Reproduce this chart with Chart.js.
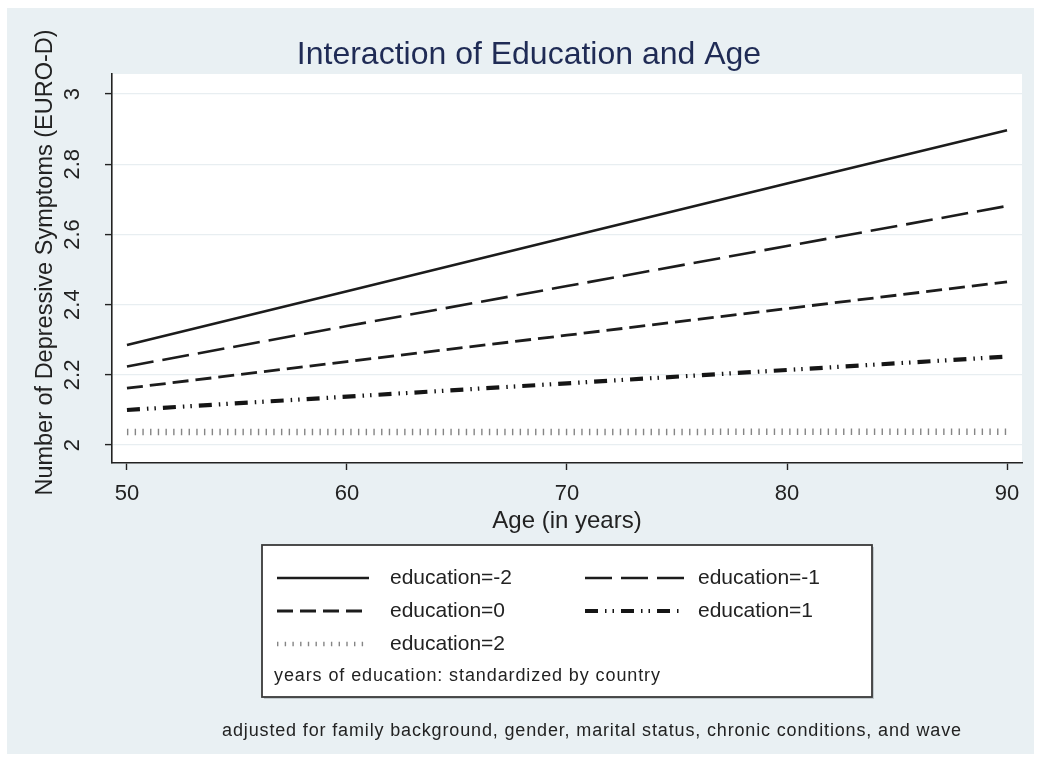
<!DOCTYPE html>
<html>
<head>
<meta charset="utf-8">
<script src="https://cdn.jsdelivr.net/npm/chart.js@4.4.1/dist/chart.umd.min.js"></script>
<style>
  html, body { margin: 0; padding: 0; background: #ffffff; }
  #wrap { width: 1040px; height: 762px; position: relative; }
</style>
</head>
<body>
<div id="wrap"><canvas id="c" width="1040" height="762"></canvas></div>
<script>
// Predicted EURO-D scores by age, one series per standardized education level
const ages = [50, 60, 70, 80, 90];
const eduMinus2 = [2.285, 2.438, 2.592, 2.745, 2.897];
const eduMinus1 = [2.224, 2.339, 2.453, 2.567, 2.681];
const eduZero   = [2.162, 2.238, 2.313, 2.389, 2.465];
const eduPlus1  = [2.100, 2.138, 2.176, 2.214, 2.252];
const eduPlus2  = [2.037, 2.037, 2.037, 2.038, 2.038];
const seriesLabels = ['education=-2', 'education=-1', 'education=0', 'education=1', 'education=2'];

// Axis ticks and text
const xTicks = [50, 60, 70, 80, 90];
const yTicks = [2, 2.2, 2.4, 2.6, 2.8, 3];
const yTickLabels = ['2', '2.2', '2.4', '2.6', '2.8', '3'];
const titleText = 'Interaction of Education and Age';
const xTitle = 'Age (in years)';
const yTitle = 'Number of Depressive Symptoms (EURO-D)';
const legendNote = 'years of education: standardized by country';
const footNote = 'adjusted for family background, gender, marital status, chronic conditions, and wave';

const FONT = '"Liberation Sans", Arial, Helvetica, sans-serif';
const INK = '#222222';

function pts(vals) { return ages.map((a, i) => ({ x: a, y: vals[i] })); }

const styles = [
  { borderColor: '#1c1c1c', borderWidth: 2.6, borderDash: [] },
  { borderColor: '#1c1c1c', borderWidth: 2.6, borderDash: [27, 9] },
  { borderColor: '#1c1c1c', borderWidth: 2.8, borderDash: [16, 7] },
  { borderColor: '#151515', borderWidth: 4.2, borderDash: [13, 7, 1.5, 6, 1.5, 7] },
  { borderColor: '#858585', borderWidth: 6.5, borderDash: [1.4, 6.3] }
];
const seriesValues = [eduMinus2, eduMinus1, eduZero, eduPlus1, eduPlus2];

const datasets = seriesValues.map((vals, i) => Object.assign({
  label: seriesLabels[i],
  data: pts(vals),
  pointRadius: 0,
  pointHoverRadius: 0,
  tension: 0,
  borderCapStyle: 'butt',
  fill: false
}, styles[i]));

const stataFrame = {
  id: 'stataFrame',
  beforeDraw(chart) {
    const ctx = chart.ctx;
    const a = chart.chartArea;
    ctx.save();
    ctx.fillStyle = '#ffffff';
    ctx.fillRect(0, 0, chart.width, chart.height);
    ctx.fillStyle = '#e9f0f3';
    ctx.fillRect(7, 8, 1027, 746);
    ctx.fillStyle = '#ffffff';
    ctx.fillRect(a.left, a.top, a.right - a.left, a.bottom - a.top);
    ctx.restore();
  },
  afterDraw(chart) {
    const ctx = chart.ctx;
    const a = chart.chartArea;
    const ys = chart.scales.y;
    ctx.save();

    // Title
    ctx.fillStyle = '#1f2b55';
    ctx.font = '32px ' + FONT;
    ctx.textAlign = 'center';
    ctx.textBaseline = 'middle';
    ctx.fillText(titleText, 529, 55);

    // Y tick labels, rotated
    ctx.fillStyle = INK;
    ctx.font = '22px ' + FONT;
    yTicks.forEach((v, i) => {
      const y = ys.getPixelForValue(v);
      ctx.save();
      ctx.translate(73, y);
      ctx.rotate(-Math.PI / 2);
      ctx.textAlign = 'center';
      ctx.textBaseline = 'middle';
      ctx.fillText(yTickLabels[i], 0, 0);
      ctx.restore();
    });

    // Y title
    ctx.save();
    ctx.translate(46, (a.top + a.bottom) / 2 - 6);
    ctx.rotate(-Math.PI / 2);
    ctx.textAlign = 'center';
    ctx.textBaseline = 'middle';
    ctx.font = '23.5px ' + FONT;
    ctx.fillText(yTitle, 0, 0);
    ctx.restore();

    // X title
    ctx.textAlign = 'center';
    ctx.textBaseline = 'middle';
    ctx.font = '24px ' + FONT;
    ctx.fillText(xTitle, (a.left + a.right) / 2, 521);

    // Legend box
    const bx = 262, by = 545, bw = 610, bh = 152;
    ctx.fillStyle = 'rgba(120,130,135,0.35)';
    ctx.fillRect(bx + 2, by + 2, bw, bh);
    ctx.fillStyle = '#ffffff';
    ctx.fillRect(bx, by, bw, bh);
    ctx.strokeStyle = '#3a3a3a';
    ctx.lineWidth = 1.8;
    ctx.strokeRect(bx, by, bw, bh);

    const cols = [{ s0: 277, s1: 369, t: 390 }, { s0: 585, s1: 684, t: 698 }];
    const rows = [578, 611, 644];
    chart.data.datasets.forEach((ds, i) => {
      const c = cols[i % 2];
      const y = rows[Math.floor(i / 2)];
      ctx.save();
      ctx.strokeStyle = ds.borderColor;
      ctx.lineWidth = i === 4 ? 4.5 : ds.borderWidth;
      ctx.setLineDash(ds.borderDash || []);
      ctx.lineCap = 'butt';
      ctx.beginPath();
      ctx.moveTo(c.s0, y);
      ctx.lineTo(c.s1, y);
      ctx.stroke();
      ctx.restore();
      ctx.fillStyle = INK;
      ctx.font = '21px ' + FONT;
      ctx.textAlign = 'left';
      ctx.textBaseline = 'middle';
      ctx.fillText(ds.label, c.t, y);
    });
    ctx.font = '18px ' + FONT;
    ctx.fillStyle = INK;
    ctx.textAlign = 'left';
    ctx.textBaseline = 'middle';
    ctx.letterSpacing = '0.9px';
    ctx.fillText(legendNote, 274, 676);

    // Footnote
    ctx.textAlign = 'center';
    ctx.font = '18px ' + FONT;
    ctx.letterSpacing = '0.85px';
    ctx.fillText(footNote, 592, 731);
    ctx.letterSpacing = '0px';

    ctx.restore();
  }
};

new Chart(document.getElementById('c'), {
  type: 'line',
  data: { datasets },
  options: {
    responsive: false,
    animation: false,
    devicePixelRatio: 1,
    layout: { padding: { top: 74, right: 18, bottom: 0, left: 0 } },
    plugins: { legend: { display: false }, tooltip: { enabled: false }, title: { display: false } },
    scales: {
      x: {
        type: 'linear',
        min: 49.32,
        max: 90.68,
        afterFit(s) { s.height = 299; },
        afterBuildTicks(s) { s.ticks = xTicks.map(v => ({ value: v })); },
        border: { display: true, color: '#222222', width: 1.6 },
        grid: { drawOnChartArea: false, drawTicks: true, tickLength: 7, tickColor: '#222222', tickWidth: 1.4 },
        ticks: { color: INK, font: { size: 22, family: FONT }, padding: 11, maxRotation: 0, minRotation: 0 }
      },
      y: {
        type: 'linear',
        min: 1.949,
        max: 3.057,
        afterFit(s) { s.width = 112; },
        afterBuildTicks(s) { s.ticks = yTicks.map(v => ({ value: v })); },
        border: { display: true, color: '#222222', width: 1.6 },
        grid: { color: '#e8eef1', lineWidth: 1.2, drawTicks: true, tickLength: 7, tickColor: '#222222', tickWidth: 1.4 },
        ticks: { display: false }
      }
    }
  },
  plugins: [stataFrame]
});
</script>
</body>
</html>
